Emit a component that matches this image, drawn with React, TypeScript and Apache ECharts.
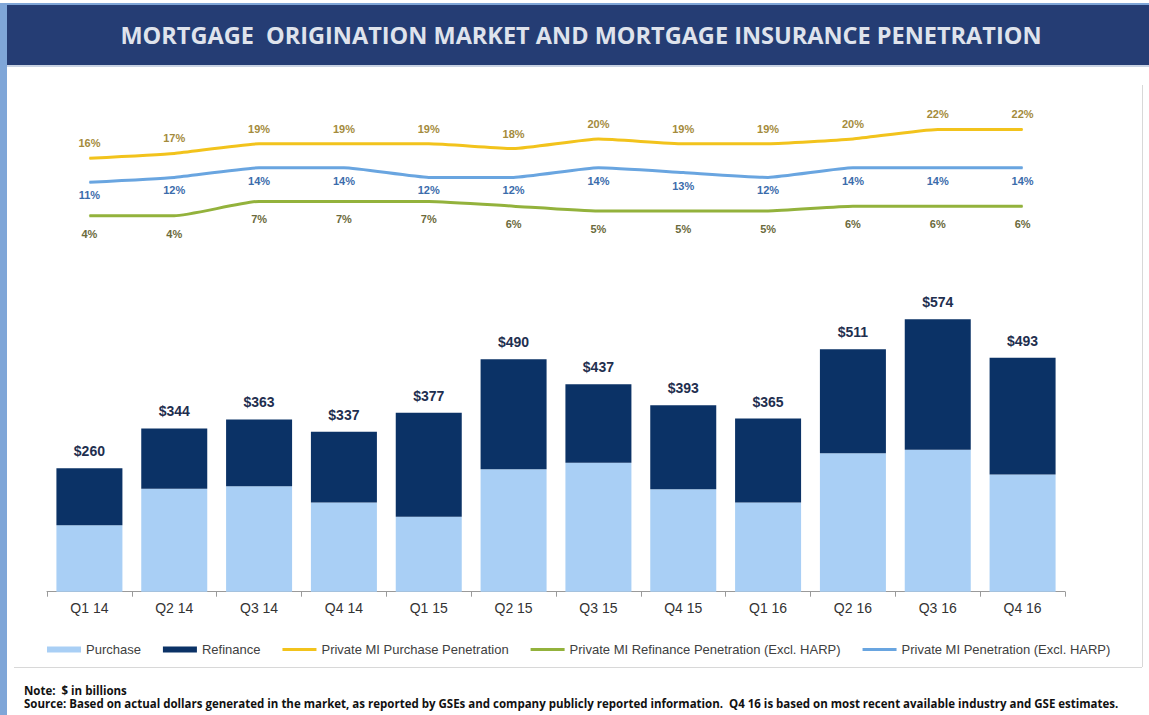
import React, { useEffect, useRef } from "react";
import * as echarts from "echarts";

const categories = ["Q1 14", "Q2 14", "Q3 14", "Q4 14", "Q1 15", "Q2 15", "Q3 15", "Q4 15", "Q1 16", "Q2 16", "Q3 16", "Q4 16"];
const purchaseVolume = [140, 217, 222, 188, 158, 258, 272, 216, 188, 292, 299, 247];
const refinanceVolume = [120, 127, 141, 149, 219, 232, 165, 177, 177, 219, 275, 246];
const totalVolume = [260, 344, 363, 337, 377, 490, 437, 393, 365, 511, 574, 493];
const purchasePenetration = [16, 17, 19, 19, 19, 18, 20, 19, 19, 20, 22, 22];
const refinancePenetration = [4, 4, 7, 7, 7, 6, 5, 5, 5, 6, 6, 6];
const totalPenetration = [11, 12, 14, 14, 12, 12, 14, 13, 12, 14, 14, 14];

const TITLE = "MORTGAGE  ORIGINATION MARKET AND MORTGAGE INSURANCE PENETRATION";
const NOTE = "Note:  $ in billions";
const SOURCE =
  "Source: Based on actual dollars generated in the market, as reported by GSEs and company publicly reported information.  Q4 16 is based on most recent available industry and GSE estimates.";

const LINE_ICON = "path://M0,0L34,0L34,3L0,3Z";

export default function App() {
  const ref = useRef<HTMLDivElement>(null);
  useEffect(() => {
    if (!ref.current) return;
    const chart = echarts.init(ref.current, null, { renderer: "svg" });
    const font = "Liberation Sans, Arial, sans-serif";
    const lineLabel = (position: string, distance: number, color: string) => ({
      show: true,
      position,
      distance,
      formatter: "{c}%",
      color,
      fontSize: 11,
      fontWeight: "bold",
      fontFamily: font,
    });
    const option: any = {
      animation: false,
      backgroundColor: "#ffffff",
      textStyle: { fontFamily: font },
      graphic: [
        { type: "rect", shape: { x: 0, y: 3, width: 7, height: 712 }, style: { fill: "#7fa6d8" }, z: 0 },
        { type: "rect", shape: { x: 0, y: 3, width: 1149, height: 2 }, style: { fill: "#7fa6d8" }, z: 0 },
        { type: "rect", shape: { x: 7, y: 5, width: 1142, height: 60 }, style: { fill: "#253d74" }, z: 2 },
        { type: "rect", shape: { x: 7, y: 65, width: 1142, height: 2 }, style: { fill: "#c9d3e3" }, z: 2 },
        {
          type: "text",
          x: 581,
          y: 35,
          style: {
            text: TITLE,
            fill: "#dfe3ec",
            font: "bold 23.5px 'Open Sans', sans-serif",
            align: "center",
            verticalAlign: "middle",
          },
          z: 3,
        },
        { type: "line", shape: { x1: 14, y1: 667.5, x2: 1142, y2: 667.5 }, style: { stroke: "#d8d8d8", lineWidth: 1 }, z: 2 },
        { type: "line", shape: { x1: 1142.5, y1: 85, x2: 1142.5, y2: 667 }, style: { stroke: "#d8d8d8", lineWidth: 1 }, z: 2 },
        {
          type: "text",
          x: 24,
          y: 690,
          style: { text: NOTE, fill: "#111111", font: "bold 11.5px 'Open Sans', sans-serif", verticalAlign: "middle" },
          z: 3,
        },
        {
          type: "text",
          x: 24,
          y: 703,
          style: { text: SOURCE, fill: "#111111", font: "bold 11.5px 'Open Sans', sans-serif", verticalAlign: "middle" },
          z: 3,
        },
      ],
      legend: {
        left: 47,
        top: 643,
        padding: 0,
        itemGap: 22,
        itemWidth: 34,
        itemHeight: 6,
        textStyle: { color: "#404040", fontSize: 13, fontFamily: font },
        data: [
          { name: "Purchase", icon: "rect" },
          { name: "Refinance", icon: "rect" },
          { name: "Private MI Purchase Penetration", icon: LINE_ICON },
          { name: "Private MI Refinance Penetration (Excl. HARP)", icon: LINE_ICON },
          { name: "Private MI Penetration (Excl. HARP)", icon: LINE_ICON },
        ],
      },
      grid: [
        { left: 47, width: 1018, top: 115, height: 120 },
        { left: 47, width: 1018, top: 307, height: 284.7 },
      ],
      xAxis: [
        { type: "category", gridIndex: 0, data: categories, show: false },
        {
          type: "category",
          gridIndex: 1,
          data: categories,
          axisLine: { lineStyle: { color: "#9a9a9a", width: 1 } },
          axisTick: { show: true, length: 5, lineStyle: { color: "#9a9a9a" } },
          axisLabel: { color: "#333333", fontSize: 14, margin: 9, fontFamily: font, interval: 0 },
        },
      ],
      yAxis: [
        { type: "value", gridIndex: 0, min: 0, max: 25, show: false, splitLine: { show: false } },
        { type: "value", gridIndex: 1, min: 0, max: 600, show: false, splitLine: { show: false } },
      ],
      series: [
        {
          name: "Purchase",
          type: "bar",
          xAxisIndex: 1,
          yAxisIndex: 1,
          stack: "vol",
          barWidth: 66,
          data: purchaseVolume,
          itemStyle: { color: "#a9cff5" },
        },
        {
          name: "Refinance",
          type: "bar",
          xAxisIndex: 1,
          yAxisIndex: 1,
          stack: "vol",
          barWidth: 66,
          data: refinanceVolume,
          itemStyle: { color: "#0b3266" },
          label: {
            show: true,
            position: "top",
            distance: 10,
            formatter: (p: any) => "$" + totalVolume[p.dataIndex],
            color: "#1f2f4f",
            fontSize: 14,
            fontWeight: "bold",
            fontFamily: font,
          },
        },
        {
          name: "Private MI Purchase Penetration",
          type: "line",
          xAxisIndex: 0,
          yAxisIndex: 0,
          data: purchasePenetration,
          symbol: "circle",
          symbolSize: 1,
          showSymbol: true,
          smooth: 0.15,
          lineStyle: { color: "#f2c31c", width: 3 },
          itemStyle: { color: "#f2c31c" },
          label: lineLabel("top", 9, "#a48b3c"),
        },
        {
          name: "Private MI Refinance Penetration (Excl. HARP)",
          type: "line",
          xAxisIndex: 0,
          yAxisIndex: 0,
          data: refinancePenetration,
          symbol: "circle",
          symbolSize: 1,
          showSymbol: true,
          smooth: 0.15,
          lineStyle: { color: "#93b23c", width: 3 },
          itemStyle: { color: "#93b23c" },
          label: lineLabel("bottom", 12, "#6b6a3c"),
        },
        {
          name: "Private MI Penetration (Excl. HARP)",
          type: "line",
          xAxisIndex: 0,
          yAxisIndex: 0,
          data: totalPenetration,
          symbol: "circle",
          symbolSize: 1,
          showSymbol: true,
          smooth: 0.15,
          lineStyle: { color: "#69a5e0", width: 3 },
          itemStyle: { color: "#69a5e0" },
          label: lineLabel("bottom", 7, "#3b6cab"),
        },
      ],
    };
    chart.setOption(option);
    return () => chart.dispose();
  }, []);
  return <div ref={ref} style={{ position: "absolute", left: 0, top: 0, width: 1149, height: 715 }} />;
}
